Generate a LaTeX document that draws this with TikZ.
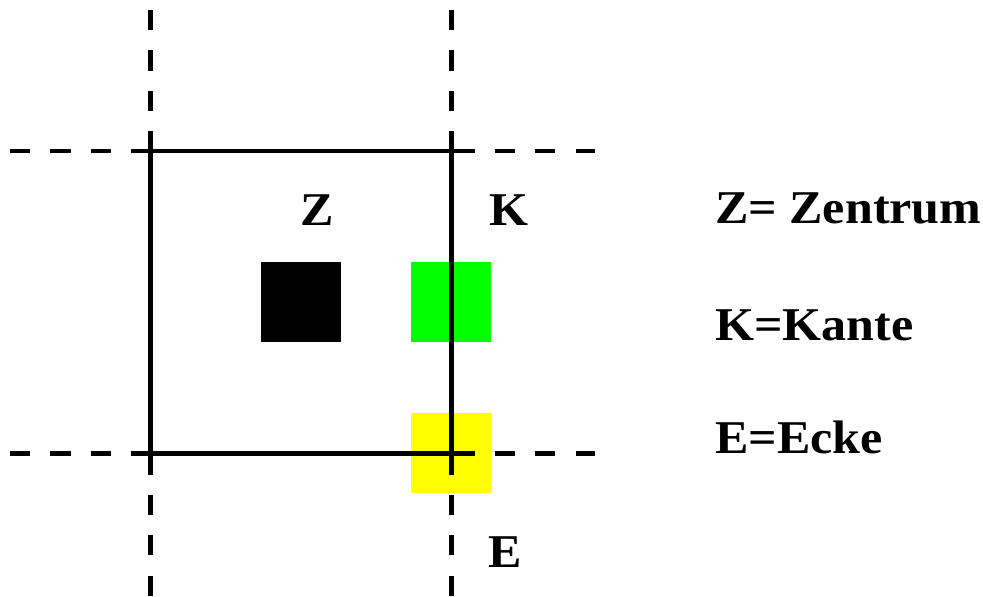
\documentclass[tikz,border=0pt]{standalone}
\usepackage{fontspec}
\newfontfamily\labfont[FakeStretch=1.065]{Liberation Serif}
\begin{document}
\begin{tikzpicture}[x=1pt,y=-1pt,
  dashline/.style={line width=4.5pt,dash pattern=on 20.2pt off 20.2pt},
  solidline/.style={line width=4.5pt},
  patch/.style={draw=none,minimum size=80pt,inner sep=0pt,outer sep=0pt},
  lbl/.style={inner sep=0pt,font=\labfont\bfseries\fontsize{47}{56}\selectfont}]
\useasboundingbox (0,0) rectangle (983,597);
% colour patches
\node[patch,fill=black]  (zpatch) at (301,302) {};
\node[patch,fill={rgb,255:red,0;green,255;blue,0}] (kpatch) at (451,302) {};
\node[patch,fill={rgb,255:red,255;green,255;blue,0}] (epatch) at (451,453) {};
% dashed grid lines
\coordinate (v1t) at (150.5,10); \coordinate (v1b) at (150.5,597);
\coordinate (v2t) at (451.5,10); \coordinate (v2b) at (451.5,597);
\coordinate (h1l) at (10,151); \coordinate (h1r) at (595,151);
\coordinate (h2l) at (10,453.5); \coordinate (h2r) at (595,453.5);
\draw[dashline] (v1t) -- (v1b);
\draw[dashline] (v2t) -- (v2b);
\draw[dashline] (h1l) -- (h1r);
\draw[dashline] (h2l) -- (h2r);
% solid square
\coordinate (sqa) at (150.5,151); \coordinate (sqb) at (451.5,453.5);
\draw[solidline] (sqa) rectangle (sqb);
% labels
\node[lbl,anchor=base] (zl) at (317.5,225) {Z};
\node[lbl,anchor=base] (kl) at (508.5,225) {K};
\node[lbl,anchor=base] (el) at (505.5,567) {E};
% legend
\node[lbl,anchor=base west] (zlg) at (715,223) {Z= Zentrum};
\node[lbl,anchor=base west] (klg) at (715,340) {K=Kante};
\node[lbl,anchor=base west] (elg) at (715,453) {E=Ecke};
\end{tikzpicture}
\end{document}
